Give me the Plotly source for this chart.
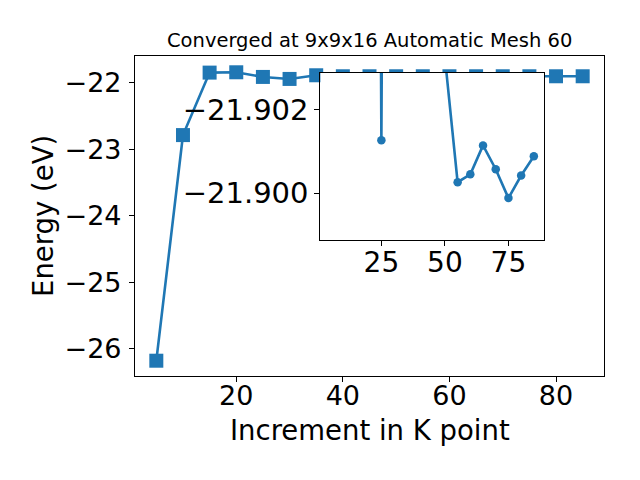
import plotly.graph_objects as go

# ---- data ----
k_points = [5, 10, 15, 20, 25, 30, 35, 40, 45, 50, 55, 60, 65, 70, 75, 80, 85]
energy = [-26.18, -22.785, -21.845, -21.84, -21.91, -21.94, -21.885, -21.90, -21.90,
          -21.90, -21.90, -21.90, -21.90, -21.90, -21.90, -21.90, -21.90]

# inset (zoomed) values
inset_k = [5, 10, 15, 20, 25, 30, 35, 40, 45, 50, 55, 60, 65, 70, 75, 80, 85]
inset_energy = [-26.18, -22.785, -21.96, -21.96, -21.90126, -21.96, -21.95, -21.94, -21.92,
                -21.90324, -21.90026, -21.90045, -21.90114, -21.90057, -21.89988,
                -21.90042, -21.90088]

main_yticks = [-26, -25, -24, -23, -22]
main_yticktext = ["−26", "−25", "−24", "−23", "−22"]
main_xticks = [20, 40, 60, 80]
inset_xticks = [25, 50, 75]
inset_yticks = [-21.902, -21.900]
inset_yticktext = ["−21.902", "−21.900"]

title_text = "Converged at 9x9x16 Automatic Mesh 60"
xlabel = "Increment in K point"
ylabel = "Energy (eV)"

BLUE = "#1f77b4"
FONT = "DejaVu Sans"

fig = go.Figure()
fig.add_trace(go.Scatter(
    x=k_points, y=energy, mode="lines+markers",
    line=dict(color=BLUE, width=2.6),
    marker=dict(symbol="square", size=14, color=BLUE),
    xaxis="x", yaxis="y", showlegend=False, cliponaxis=False,
))
fig.add_trace(go.Scatter(
    x=inset_k, y=inset_energy, mode="lines+markers",
    line=dict(color=BLUE, width=2.6),
    marker=dict(symbol="circle", size=8.5, color=BLUE),
    xaxis="x2", yaxis="y2", showlegend=False,
))


def axis_style(fs):
    return dict(
        showline=True, linecolor="black", linewidth=1.1, mirror=True,
        ticks="outside", ticklen=5, tickwidth=1.1, tickcolor="black",
        showgrid=False, zeroline=False, automargin=False,
        tickfont=dict(family=FONT, size=fs, color="black"),
    )


fig.update_layout(
    width=632, height=472,
    margin=dict(l=127, r=36, t=48, b=104),
    paper_bgcolor="white", plot_bgcolor="white",
    font=dict(family=FONT, color="black"),
    xaxis=dict(domain=[0, 1], range=[1, 89], tickvals=main_xticks,
               ticklabelstandoff=-9, **axis_style(27)),
    yaxis=dict(domain=[0, 1], range=[-26.41, -21.595], tickvals=main_yticks,
               ticktext=main_yticktext, ticklabelstandoff=2, **axis_style(27)),
    xaxis2=dict(domain=[0.3953, 0.8721], range=[1, 89], tickvals=inset_xticks,
                anchor="y2", ticklabelstandoff=-8, **axis_style(28)),
    yaxis2=dict(domain=[0.4251, 0.9482], range=[-21.89888, -21.90288],
                tickvals=inset_yticks, ticktext=inset_yticktext,
                anchor="x2", **axis_style(29)),
    annotations=[
        dict(text=title_text, xref="paper", yref="paper", x=0.5, y=1,
             xanchor="center", yanchor="bottom", yshift=2, showarrow=False,
             font=dict(family=FONT, size=19.5, color="black")),
        dict(text=xlabel, xref="paper", yref="paper", x=0.5, y=0,
             xanchor="center", yanchor="middle", yshift=-54, showarrow=False,
             font=dict(family=FONT, size=27.5, color="black")),
        dict(text=ylabel, xref="paper", yref="paper", x=0, y=0.5, textangle=-90,
             xanchor="center", yanchor="middle", xshift=-92, showarrow=False,
             font=dict(family=FONT, size=27.5, color="black")),
    ],
)

fig.write_html("out.html")
